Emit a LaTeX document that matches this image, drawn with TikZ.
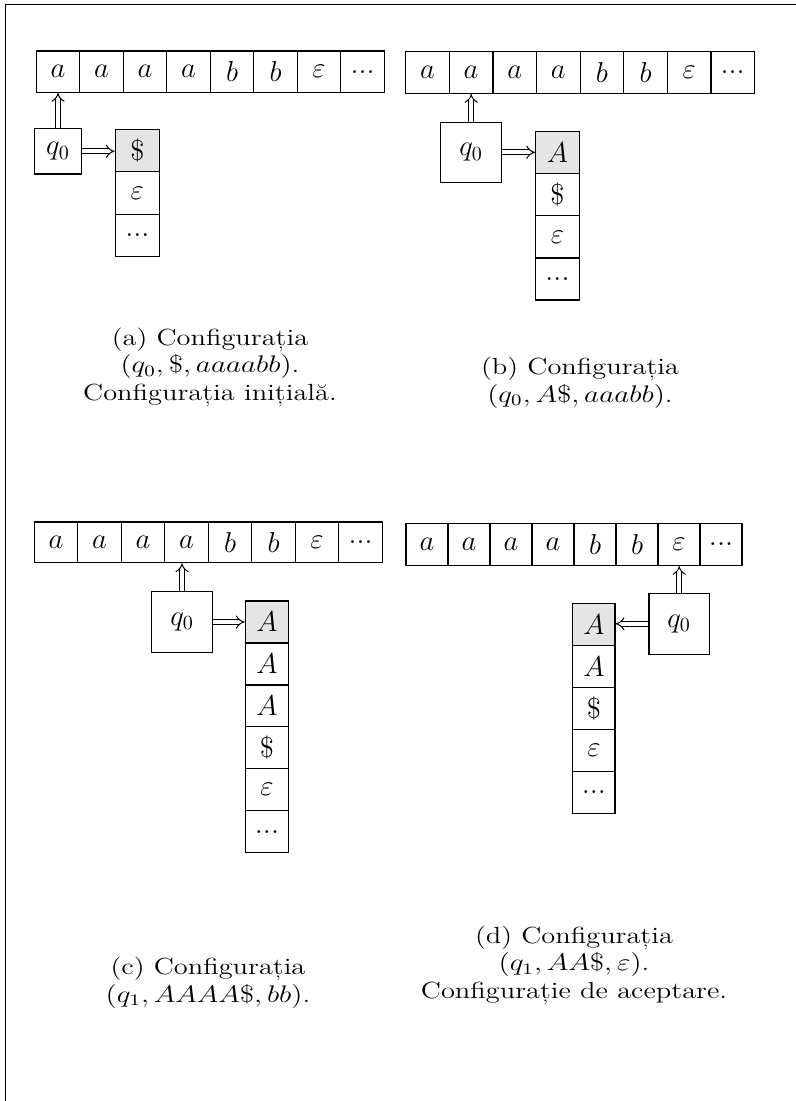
\documentclass[tikz,border=0pt]{standalone}
\usepackage{fontspec}
\usepackage{graphicx}
\usetikzlibrary{arrows.meta}
\newcommand\pxu{0.5pt}
\newcommand\tdots{...}
\newcommand\cellfont{\fontsize{14.75}{17}\selectfont}
\newcommand\capfont{\fontsize{11.65}{13.75}\selectfont}
\newcommand\capbox[1]{\scalebox{1.22}[1]{\begin{tabular}[b]{@{}c@{}}#1\end{tabular}}}
\tikzset{
  cellbox/.style={draw, line width=0.6pt, inner sep=0pt, font=\cellfont},
  topcell/.style={cellbox, fill=black!10},
  plaincell/.style={cellbox},
  statebox/.style={draw, line width=0.6pt, inner sep=0pt, font=\cellfont},
  dblarrow/.style={double, double distance=1.8pt, line width=0.5pt, -{Implies}},
  caption/.style={anchor=base, inner sep=0pt, font=\capfont},
  frame/.style={line width=0.65pt}
}
% tape: prefix, left, top, cell width, cell height
\newcommand\tapeRow[5]{%
  \foreach \s [count=\i] in {$a$,$a$,$a$,$a$,$b$,$b$,$\varepsilon$,\tdots}{
    \node[plaincell, minimum width=#4*\pxu, minimum height=#5*\pxu] (#1-t\i) at ({#2+(\i-0.5)*#4},{#3+#5/2}) {\s};
  }}
% stack: prefix, left, top, cell width, cell height, contents
\newcommand\stackCol[6]{%
  \foreach \s [count=\i] in {#6}{
    \ifnum\i=1 \def\cs{topcell}\else\def\cs{plaincell}\fi
    \node[\cs, minimum width=#4*\pxu, minimum height=#5*\pxu] (#1-s\i) at ({#2+#4/2},{#3+(\i-0.5)*#5}) {\s};
  }}
\begin{document}
\begin{tikzpicture}[x=0.5pt,y=-0.5pt]
\useasboundingbox (0,0) rectangle (796,1101);
\draw[frame] (5.5,1101) -- (5.5,4.5) -- (796,4.5);

% ---------- (a)
\tapeRow{a}{36.3}{51}{43.5}{41.3}
\node[statebox, minimum width=47.4*\pxu, minimum height=45.3*\pxu] (a-q) at (58,151.3) {$q_0$};
\stackCol{a}{115.3}{129.3}{44}{42.5}{$\$$,$\varepsilon$,\tdots}
\draw[dblarrow] (a-q.north) -- (a-q.north |- a-t1.south);
\draw[dblarrow] (a-q.east) -- (a-q.east -| a-s1.west);
\node[caption] (a-cap) at (210,400) {\capbox{(a) Configurația\\$(q_0, \$, aaaabb)$.\\Configurația inițială.}};

% ---------- (b)
\tapeRow{b}{405.7}{51.7}{43.6}{41.6}
\node[statebox, minimum width=60.7*\pxu, minimum height=60*\pxu] (b-q) at (471.2,152.3) {$q_0$};
\stackCol{b}{535.7}{131.7}{43.6}{42.1}{$A$,$\$$,$\varepsilon$,\tdots}
\draw[dblarrow] (b-q.north) -- (b-q.north |- b-t2.south);
\draw[dblarrow] (b-q.east) -- (b-q.east -| b-s1.west);
\node[caption] (b-cap) at (580,402) {\capbox{(b) Configurația\\$(q_0, A\$, aaabb)$.}};

% ---------- (c)
\tapeRow{c}{34.3}{522}{43.5}{40.7}
\node[statebox, minimum width=60.3*\pxu, minimum height=60.6*\pxu] (c-q) at (182,622) {$q_0$};
\stackCol{c}{245.3}{601}{43.4}{41.95}{$A$,$A$,$A$,$\$$,$\varepsilon$,\tdots}
\draw[dblarrow] (c-q.north) -- (c-q.north |- c-t4.south);
\draw[dblarrow] (c-q.east) -- (c-q.east -| c-s1.west);
\node[caption] (c-cap) at (208,1002) {\capbox{(c) Configurația\\$(q_1, AAAA\$, bb)$.}};

% ---------- (d)
\tapeRow{d}{406}{523.3}{42}{42}
\node[statebox, minimum width=60.6*\pxu, minimum height=61*\pxu] (d-q) at (679.2,623.8) {$q_0$};
\stackCol{d}{572.7}{603.3}{42.3}{42}{$A$,$A$,$\$$,$\varepsilon$,\tdots}
\draw[dblarrow] (d-q.north) -- (d-q.north |- d-t7.south);
\draw[dblarrow] (d-q.west) -- (d-q.west -| d-s1.east);
\node[caption] (d-cap) at (574,998) {\capbox{(d) Configurația\\$(q_1, AA\$, \varepsilon)$.\\Configurație de aceptare.}};
\end{tikzpicture}
\end{document}
